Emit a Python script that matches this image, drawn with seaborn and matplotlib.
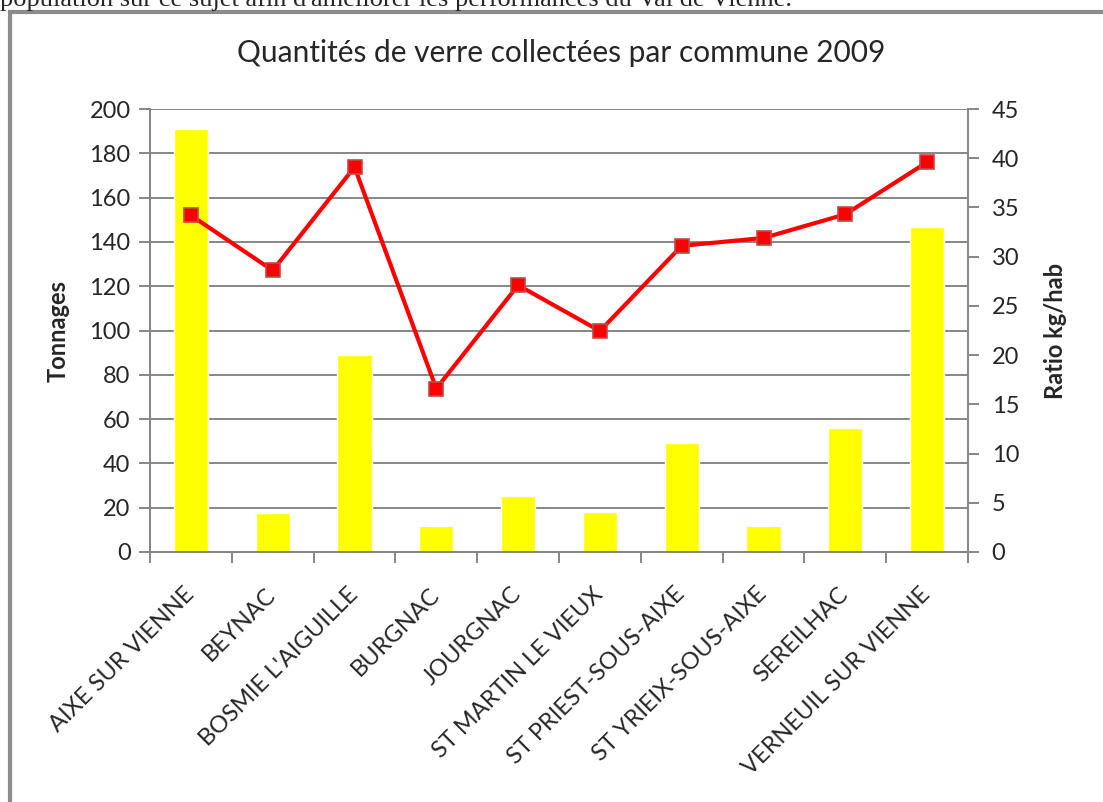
import matplotlib
matplotlib.use('Agg')
import matplotlib.pyplot as plt
import seaborn as sns
import numpy as np
from matplotlib.patches import Rectangle
from matplotlib.ticker import MultipleLocator

communes = ['AIXE SUR VIENNE', 'BEYNAC', "BOSMIE L'AIGUILLE", 'BURGNAC', 'JOURGNAC',
            'ST MARTIN LE VIEUX', 'ST PRIEST-SOUS-AIXE', 'ST YRIEIX-SOUS-AIXE',
            'SEREILHAC', 'VERNEUIL SUR VIENNE']
tonnages = [191, 17.5, 89, 11.7, 25.3, 18, 49, 11.7, 56, 146.7]
ratio = [34.2, 28.6, 39.1, 16.6, 27.1, 22.45, 31.1, 31.9, 34.3, 39.6]

sns.set_theme(style='white')
plt.rcParams['font.family'] = ['Lato', 'DejaVu Sans']

grille = '#868686'

fig = plt.figure(figsize=(11.03, 8.02), dpi=100)
ax = fig.add_axes([150/1103, 1 - 552/802, (968-150)/1103, (552-109)/802])

sns.barplot(x=communes, y=tonnages, color='#FFFF00', width=0.42, saturation=1, ax=ax)
ax.set_ylim(0, 200)
ax.yaxis.set_major_locator(MultipleLocator(20))
ax.grid(axis='y', color=grille, linewidth=1.4)
ax.set_axisbelow(True)

ax2 = ax.twinx()
sns.pointplot(x=communes, y=ratio, color='#FF0000', markers='s', linewidth=3,
              markersize=10, ax=ax2)
for l in ax2.lines:
    l.set_markeredgecolor('#BE4B48')
    l.set_markeredgewidth(1.2)
ax2.set_ylim(0, 45)
ax2.yaxis.set_major_locator(MultipleLocator(5))
ax2.grid(False)
ax.set_xlim(-0.5, len(communes) - 0.5)

for a in (ax, ax2):
    for s in a.spines.values():
        s.set_color(grille)
        s.set_linewidth(1.4)
    a.spines['top'].set_visible(False)
ax.spines['right'].set_visible(False)

ax.tick_params(axis='y', length=8, color=grille, width=1.4, labelsize=17, pad=6, left=True)
ax2.tick_params(axis='y', length=8, color=grille, width=1.4, labelsize=17, pad=9, right=True)

ax.set_xticks(np.arange(len(communes)))
ax.set_xticklabels(communes, rotation=45, ha='right', va='center', rotation_mode='anchor', fontsize=17)
ax.tick_params(axis='x', which='major', length=0, pad=28)
ax.set_xticks(np.arange(len(communes) + 1) - 0.5, minor=True)
ax.tick_params(axis='x', which='minor', length=8, color=grille, width=1.4, bottom=True)

ax.set_ylabel('Tonnages', fontsize=17, fontweight='bold', labelpad=14)
ax2.set_ylabel('Ratio kg/hab', fontsize=17, fontweight='bold', labelpad=18)
ax.set_xlabel('')

fig.text(561/1103, 1 - 53/802, 'Quantités de verre collectées par commune 2009',
         ha='center', va='center', fontsize=21.5)

fig.text(0, 1 - 6/802, "population sur ce sujet afin d'améliorer les performances du Val de Vienne.",
         ha='left', va='baseline', fontsize=19, family=['Liberation Serif', 'DejaVu Serif'])

fig.patches.append(Rectangle((10/1103, -0.1), 1.2, 1 - 12/802 + 0.1, transform=fig.transFigure,
                             fill=False, edgecolor='#8C8C8C', linewidth=3))

fig.savefig('out.png', dpi=100)
